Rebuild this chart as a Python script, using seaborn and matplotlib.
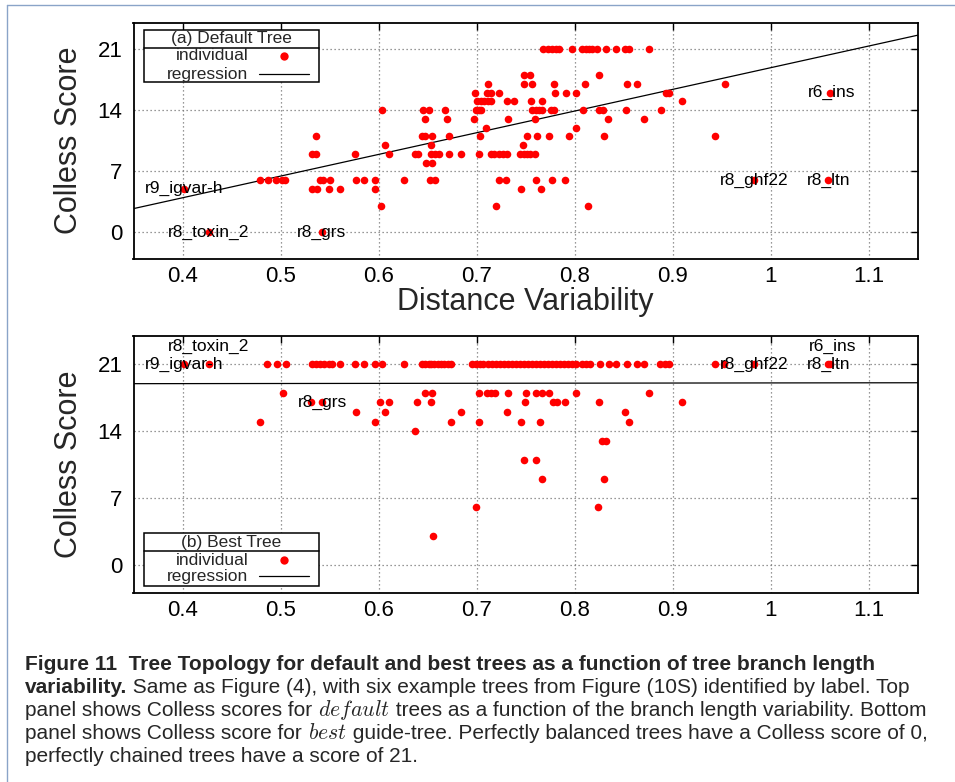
import numpy as np
import pandas as pd
import matplotlib
matplotlib.use("Agg")
import matplotlib.pyplot as plt
import matplotlib.font_manager as fm
import seaborn as sns
from matplotlib.lines import Line2D
from matplotlib.patches import Rectangle

# ---- data ---------------------------------------------------------------
# distance variability (x) grouped by Colless score (y)
top_scores = [21, 18, 17, 16, 15, 14, 13, 12, 11, 10, 9, 8, 6, 5, 3, 0]
top_dv = [
    [0.768, 0.773, 0.777, 0.781, 0.784, 0.797, 0.808, 0.812, 0.815, 0.818, 0.823, 0.832, 0.842, 0.851, 0.855, 0.876],
    [0.748, 0.754, 0.825],
    [0.712, 0.748, 0.757, 0.779, 0.811, 0.853, 0.864, 0.953],
    [0.698, 0.711, 0.715, 0.723, 0.780, 0.791, 0.801, 0.893, 0.896, 1.061],
    [0.700, 0.704, 0.708, 0.712, 0.715, 0.731, 0.738, 0.756, 0.767, 0.910],
    [0.604, 0.645, 0.651, 0.668, 0.699, 0.702, 0.705, 0.757, 0.761, 0.764, 0.767, 0.776, 0.779, 0.809, 0.825, 0.829, 0.852, 0.888],
    [0.647, 0.670, 0.697, 0.732, 0.760, 0.834, 0.871],
    [0.710, 0.801],
    [0.536, 0.644, 0.647, 0.655, 0.672, 0.703, 0.751, 0.762, 0.774, 0.794, 0.830, 0.943],
    [0.607, 0.654, 0.747],
    [0.532, 0.536, 0.576, 0.611, 0.637, 0.640, 0.654, 0.658, 0.662, 0.672, 0.684, 0.702, 0.715, 0.718, 0.723, 0.727, 0.731, 0.744, 0.748, 0.751, 0.754, 0.760],
    [0.648, 0.655],
    [0.479, 0.487, 0.495, 0.502, 0.505, 0.540, 0.543, 0.550, 0.577, 0.585, 0.596, 0.626, 0.652, 0.658, 0.723, 0.730, 0.761, 0.777, 0.790, 0.983, 1.059],
    [0.402, 0.532, 0.537, 0.549, 0.561, 0.596, 0.745, 0.766],
    [0.602, 0.720, 0.814],
    [0.427, 0.542],
]

bot_scores = [21, 18, 17, 16, 15, 14, 13, 11, 9, 6, 3]
bot_dv = [
    [0.402, 0.427, 0.486, 0.496, 0.506, 0.532, 0.536, 0.540, 0.544, 0.549, 0.552, 0.561, 0.576, 0.585,
     0.596, 0.604, 0.626, 0.644, 0.647, 0.651, 0.654, 0.657, 0.661, 0.664, 0.667, 0.671, 0.674, 0.695,
     0.699, 0.703, 0.707, 0.712, 0.716, 0.720, 0.724, 0.728, 0.732, 0.736, 0.740, 0.744, 0.748, 0.752,
     0.757, 0.761, 0.765, 0.769, 0.773, 0.777, 0.781, 0.785, 0.789, 0.793, 0.797, 0.801, 0.808, 0.812,
     0.816, 0.826, 0.835, 0.842, 0.853, 0.864, 0.871, 0.887, 0.892, 0.896, 0.943, 0.952, 0.983, 1.059, 1.061],
    [0.503, 0.647, 0.655, 0.702, 0.711, 0.715, 0.719, 0.732, 0.750, 0.761, 0.767, 0.774, 0.801, 0.876],
    [0.531, 0.542, 0.601, 0.611, 0.639, 0.653, 0.749, 0.778, 0.782, 0.790, 0.825, 0.910],
    [0.577, 0.607, 0.684, 0.731, 0.851],
    [0.479, 0.596, 0.674, 0.702, 0.745, 0.765, 0.855],
    [0.637],
    [0.828, 0.832],
    [0.748, 0.761],
    [0.767, 0.830],
    [0.699, 0.824],
    [0.656],
]

# regression (slope, intercept) as drawn in the figure
top_reg = [24.8, -5.95]
bot_reg = [0.12, 18.93]

# example tree labels
label_names = ["r9_igvar-h", "r8_toxin_2", "r8_grs", "r8_ghf22", "r8_ltn", "r6_ins"]
top_label_x = [0.402, 0.427, 0.542, 0.983, 1.059, 1.062]
top_label_y = [5, 0, 0, 6, 6, 16]
bot_label_x = [0.402, 0.427, 0.543, 0.983, 1.059, 1.063]
bot_label_y = [21, 22.9, 17, 21, 21, 22.9]

xticks = [0.4, 0.5, 0.6, 0.7, 0.8, 0.9, 1.0, 1.1]
xtick_labels = ["0.4", "0.5", "0.6", "0.7", "0.8", "0.9", "1", "1.1"]
yticks = [0, 7, 14, 21]


def to_frame(scores, dv):
    rows = [(x, s) for s, xs in zip(scores, dv) for x in xs]
    return pd.DataFrame(rows, columns=["dv", "colless"])


top_df = to_frame(top_scores, top_dv)
bot_df = to_frame(bot_scores, bot_dv)

# ---- style --------------------------------------------------------------
sns.set_theme(style="white")
plt.rcParams["font.family"] = ["Liberation Sans", "DejaVu Sans"]
plt.rcParams["mathtext.fontset"] = "cm"

W, H = 955, 782
fig = plt.figure(figsize=(W / 100, H / 100), dpi=100)
fig.patch.set_facecolor("white")


def px_axes(l, t, r, b):
    return fig.add_axes([l / W, 1 - b / H, (r - l) / W, (b - t) / H])


ax1 = px_axes(133.5, 22.7, 917.7, 258.7)
ax2 = px_axes(133.5, 335.7, 917.7, 593.3)


def draw_panel(ax, df, reg, lab_x, lab_y):
    sns.scatterplot(data=df, x="dv", y="colless", ax=ax, color="#ff0000",
                    s=30, linewidth=0, zorder=3, legend=False)
    xs = np.array([0.35, 1.15])
    sns.lineplot(x=xs, y=np.polyval(reg, xs), ax=ax, color="black",
                 linewidth=0.9, zorder=2)
    for name, x, y in zip(label_names, lab_x, lab_y):
        ax.text(x, y, name, ha="center", va="center", fontsize=12.5,
                color="black", zorder=4)


def style_axes(ax):
    ax.set_xlim(0.35, 1.15)
    ax.set_ylim(-3, 24)
    ax.set_xticks(xticks)
    ax.set_xticklabels(xtick_labels)
    ax.set_yticks(yticks)
    ax.tick_params(direction="in", length=5, width=1, top=True, right=True,
                   labelsize=16, colors="black", pad=8)
    ax.tick_params(axis="x", pad=5)
    ax.grid(True, color="#777777", linestyle=(0, (1, 2.2)), linewidth=0.9)
    for s in ax.spines.values():
        s.set_color("black")
        s.set_linewidth(1.3)
    ax.set_ylabel("Colless Score", fontsize=22, labelpad=10)
    ax.set_xlabel("")


def draw_key(ax, title, y_top, y_bot, y_sep, y_title, y_ind, y_reg):
    tr = ax.transAxes
    ax.add_patch(Rectangle((0.0134, y_bot), 0.2235, y_top - y_bot, transform=tr,
                           fill=True, facecolor="white", edgecolor="black",
                           linewidth=1.1, zorder=5))
    ax.add_line(Line2D([0.0134, 0.2369], [y_sep, y_sep], transform=tr,
                       color="black", linewidth=1.1, zorder=6))
    ax.text(0.125, y_title, title, transform=tr, ha="center", va="center",
            fontsize=12.5, zorder=6)
    ax.text(0.1464, y_ind, "individual", transform=tr, ha="right", va="center",
            fontsize=12.5, zorder=6)
    ax.text(0.1464, y_reg, "regression", transform=tr, ha="right", va="center",
            fontsize=12.5, zorder=6)
    ax.add_line(Line2D([0.192], [y_ind], transform=tr, marker="o", markersize=6,
                       color="#ff0000", markeredgewidth=0, linestyle="none", zorder=6))
    ax.add_line(Line2D([0.1604, 0.2238], [y_reg, y_reg], transform=tr,
                       color="black", linewidth=0.9, zorder=6))


draw_panel(ax1, top_df, top_reg, top_label_x, top_label_y)
draw_panel(ax2, bot_df, bot_reg, bot_label_x, bot_label_y)
style_axes(ax1)
style_axes(ax2)
ax1.set_xlabel("Distance Variability", fontsize=22, labelpad=0)
draw_key(ax1, "(a) Default Tree", 0.969, 0.7475, 0.8928, 0.931, 0.859, 0.7826)
draw_key(ax2, "(b) Best Tree", 0.2329, 0.0295, 0.1654, 0.199, 0.129, 0.067)

# frame around the figure block
fig.add_artist(Line2D([7.3 / W, 7.3 / W], [0, 1 - 4.5 / H], transform=fig.transFigure,
                      color="#8aa4c8", linewidth=1.0))
fig.add_artist(Line2D([7.3 / W, 1], [1 - 4.5 / H, 1 - 4.5 / H], transform=fig.transFigure,
                      color="#8aa4c8", linewidth=1.0))

# ---- caption --------------------------------------------------------------
avail = {f.name for f in fm.fontManager.ttflist}
cap_family = ["Liberation Sans Narrow", "DejaVu Sans"] if "Liberation Sans Narrow" in avail \
    else ["Liberation Sans", "DejaVu Sans"]

renderer = fig.canvas.get_renderer()
line1 = "Figure 11  Tree Topology for default and best trees as a function of tree branch length"
probe = fig.text(0, 0, line1, fontsize=12, fontweight="bold", family=cap_family)
w12 = probe.get_window_extent(renderer).width
probe.remove()
cap_size = 12 * 843 / w12

cap_lines = [
    [(line1, "bold")],
    [("variability.", "bold"),
     (" Same as Figure (4), with six example trees from Figure (10S) identified by label. Top", "normal")],
    [("panel shows Colless scores for ", "normal"), (r"$\mathit{default}$", "math"),
     (" trees as a function of the branch length variability. Bottom", "normal")],
    [("panel shows Colless score for ", "normal"), (r"$\mathit{best}$", "math"),
     (" guide-tree. Perfectly balanced trees have a Colless score of 0,", "normal")],
    [("perfectly chained trees have a score of 21.", "normal")],
]
cap_y = [670, 693, 716, 739, 762]

for pieces, ypx in zip(cap_lines, cap_y):
    xpx = 25
    for txt, kind in pieces:
        kw = dict(fontsize=cap_size, family=cap_family, va="baseline", ha="left")
        if kind == "bold":
            kw["fontweight"] = "bold"
        if kind == "math":
            kw["fontsize"] = cap_size * 1.05
        t = fig.text(xpx / W, 1 - ypx / H, txt, **kw)
        xpx += t.get_window_extent(renderer).width

fig.savefig("out.png", dpi=100)
